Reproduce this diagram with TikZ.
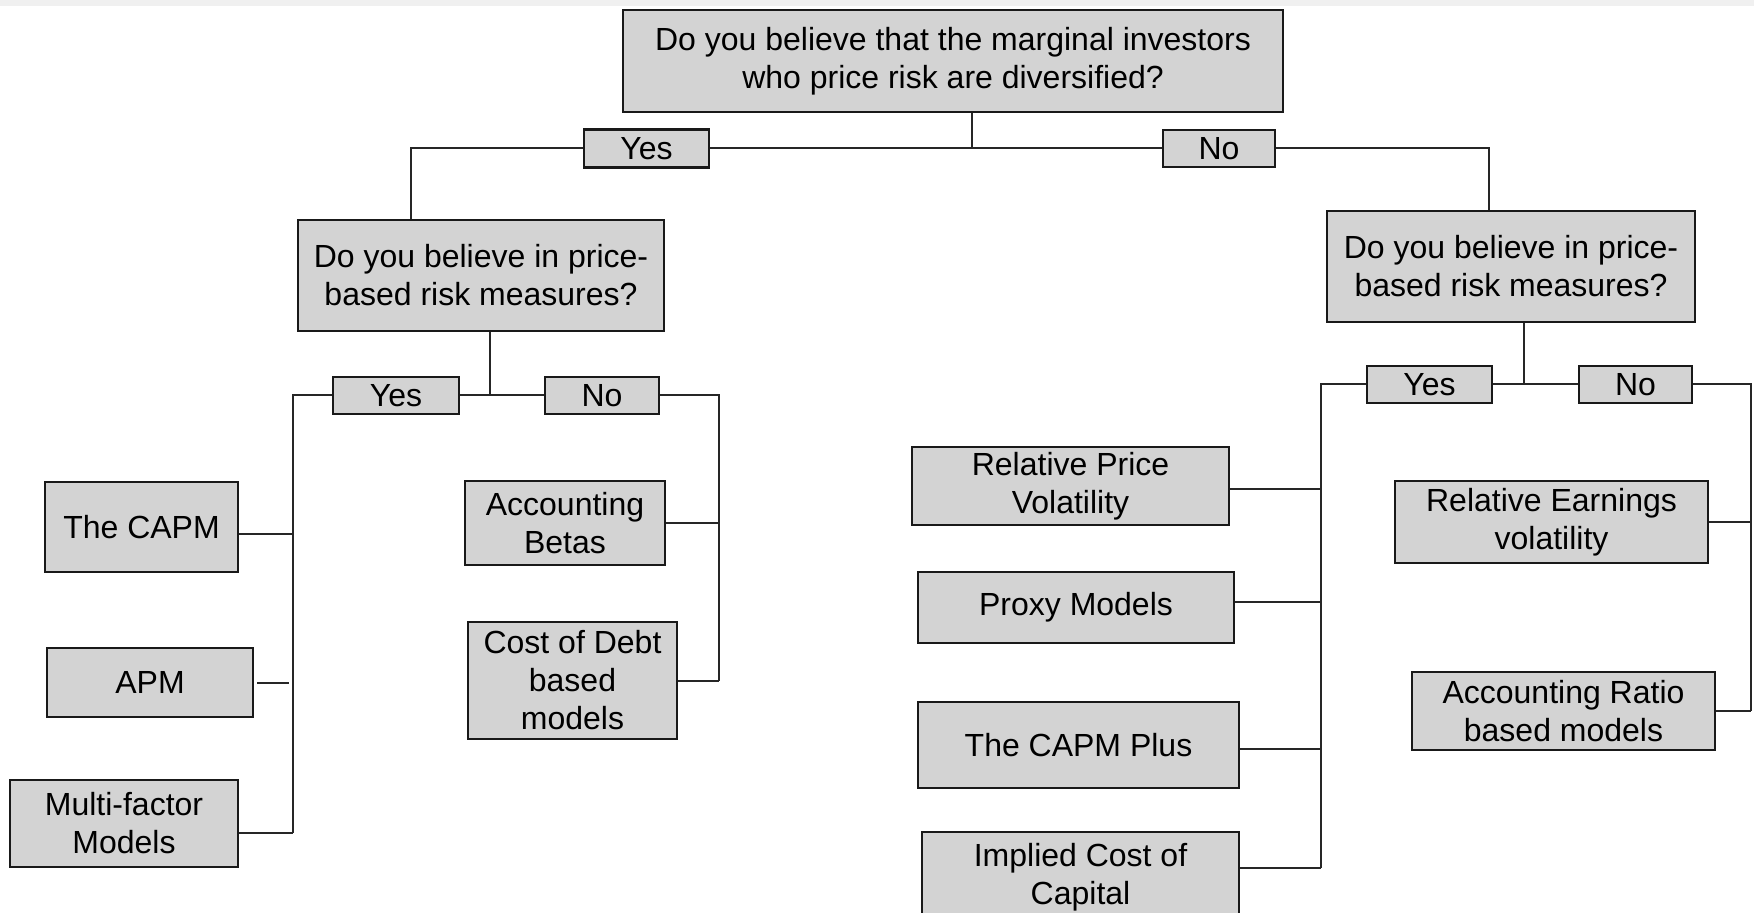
\documentclass[tikz,border=0pt]{standalone}
\usepackage{fontspec}
\setmainfont{Liberation Sans}
\usetikzlibrary{calc}

\definecolor{boxgray}{RGB}{211,211,211}

\tikzset{
    box/.style={draw=black!90, fill=boxgray, line width=1.3pt, align=center,
        inner sep=0pt, font=\fontsize{16}{19}\selectfont},
    link/.style={draw=black!85, line width=1pt}
}

\begin{document}
\begin{tikzpicture}[x=0.5pt,y=-0.5pt]

\useasboundingbox (0,0) rectangle (1754,913);
\fill[black!6] (0,0) rectangle (1754,6);

% Main question
\node[box, minimum width=330pt, minimum height=51pt] (root) at (953,61)
    {Do you believe that the marginal investors\\who price risk are diversified?};
\node[box, minimum width=62.5pt, minimum height=19pt] (yesA) at (646.5,148.5) {Yes};
\node[box, minimum width=56pt, minimum height=18.5pt] (noA) at (1219,148.5) {No};

% Second questions
\node[box, minimum width=183pt, minimum height=55.5pt] (qL) at (481,275.5)
    {Do you believe in price-\\based risk measures?};
\node[box, minimum width=184pt, minimum height=55.5pt] (qR) at (1511,266.5)
    {Do you believe in price-\\based risk measures?};
\node[box, minimum width=63pt, minimum height=18.5pt] (yesL) at (396,395.5) {Yes};
\node[box, minimum width=57pt, minimum height=18.5pt] (noL) at (602,395.5) {No};
\node[box, minimum width=62.5pt, minimum height=18.5pt] (yesR) at (1429.5,384.5) {Yes};
\node[box, minimum width=56.5pt, minimum height=18.5pt] (noR) at (1635.5,384.5) {No};

% Models, diversified investor
\node[box, minimum width=96.5pt, minimum height=45pt] (capm) at (141.5,527) {The CAPM};
\node[box, minimum width=103pt, minimum height=34.5pt] (apm) at (150,682.5) {APM};
\node[box, minimum width=114pt, minimum height=43.5pt] (multi) at (124,823.5) {Multi-factor\\Models};
\node[box, minimum width=100pt, minimum height=42pt] (acct) at (565,523) {Accounting\\Betas};
\node[box, minimum width=104.5pt, minimum height=58.5pt] (debt) at (572.5,680.5) {Cost of Debt\\based\\models};

% Models, undiversified investor
\node[box, minimum width=158.5pt, minimum height=39pt] (relprice) at (1070.5,486) {Relative Price\\Volatility};
\node[box, minimum width=158pt, minimum height=35.5pt] (proxy) at (1076,607.5) {Proxy Models};
\node[box, minimum width=160.5pt, minimum height=43pt] (plus) at (1078.5,745) {The CAPM Plus};
\node[box, minimum width=158.5pt, minimum height=45pt] (implied) at (1080.5,877) {Implied Cost of\\Capital};
\node[box, minimum width=156.5pt, minimum height=41pt] (relearn) at (1551.5,522) {Relative Earnings\\volatility};
\node[box, minimum width=151.5pt, minimum height=39pt] (ratio) at (1563.5,711) {Accounting Ratio\\based models};

% Top split
\coordinate (jTop) at (972,148.5);
\coordinate (jL) at (411,148.5);
\coordinate (jR) at (1489,148.5);
\draw[link] (root.south -| jTop) -- (jTop);
\draw[link] (yesA.east) -- (noA.west);
\draw[link] (yesA.west) -| (qL.north -| jL);
\draw[link] (noA.east) -| (qR.north -| jR);

% Left split
\coordinate (barL) at (293,0);
\coordinate (barLn) at (719,0);
\coordinate (cMulti) at ([yshift=-4.5pt]multi.east);
\draw[link] ([xshift=4.5pt]qL.south) -- ([xshift=4.5pt]qL.south |- yesL.east);
\draw[link] (yesL.east) -- (noL.west);
\draw[link] (yesL.west) -| (barL |- cMulti);
\draw[link] (noL.east) -| (barLn |- debt.east);
\draw[link] ([yshift=-3.5pt]capm.east) -- ([yshift=-3.5pt]capm.east -| barL);
\draw[link, shorten <=1.5pt, shorten >=2pt] (apm.east) -- (apm.east -| barL);
\draw[link] (cMulti) -- (cMulti -| barL);
\draw[link] (acct.east) -- (acct.east -| barLn);
\draw[link] (debt.east) -- (debt.east -| barLn);

% Right split
\coordinate (barR) at (1321,0);
\coordinate (barRn) at (1751,0);
\coordinate (cImplied) at ([yshift=4.5pt]implied.east);
\draw[link] ([xshift=6.5pt]qR.south) -- ([xshift=6.5pt]qR.south |- yesR.east);
\draw[link] (yesR.east) -- (noR.west);
\draw[link] (yesR.west) -| (barR |- cImplied);
\draw[link] (noR.east) -| (barRn |- ratio.east);
\draw[link] ([yshift=-1.5pt]relprice.east) -- ([yshift=-1.5pt]relprice.east -| barR);
\draw[link] ([yshift=3pt]proxy.east) -- ([yshift=3pt]proxy.east -| barR);
\draw[link] ([yshift=-2pt]plus.east) -- ([yshift=-2pt]plus.east -| barR);
\draw[link] (cImplied) -- (cImplied -| barR);
\draw[link] (relearn.east) -- (relearn.east -| barRn);
\draw[link] (ratio.east) -- (ratio.east -| barRn);

\end{tikzpicture}
\end{document}
